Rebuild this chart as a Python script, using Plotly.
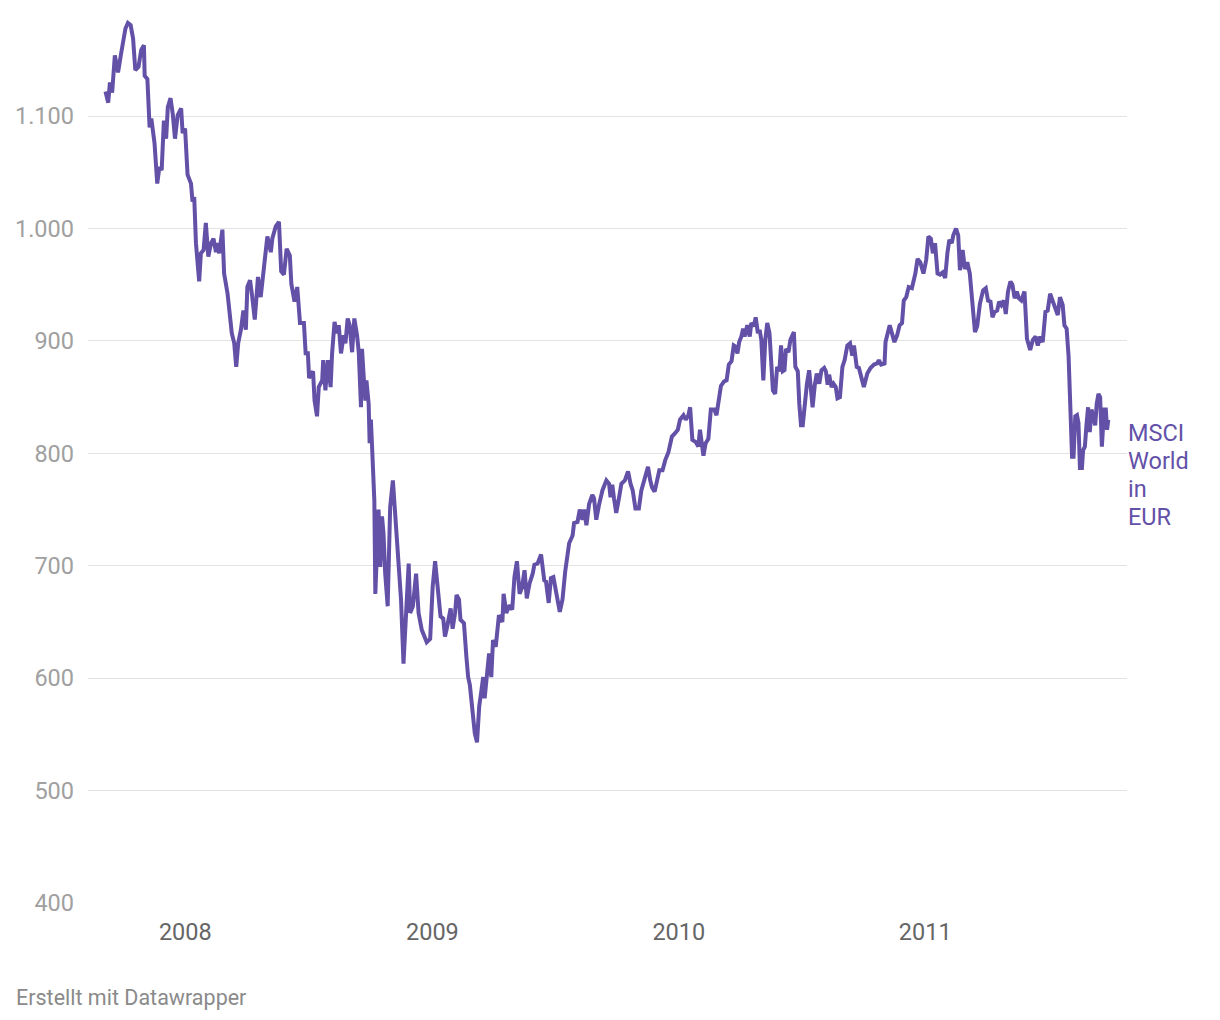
import pandas as pd
import plotly.graph_objects as go

# MSCI World in EUR
# dates as decimal years, values in index points
year_frac = [
    2007.676, 2007.687, 2007.694, 2007.703, 2007.714, 2007.727, 2007.738, 2007.747, 2007.757, 2007.767,
    2007.778, 2007.788, 2007.797, 2007.810, 2007.821, 2007.832, 2007.835, 2007.846, 2007.855, 2007.862,
    2007.868, 2007.875, 2007.886, 2007.895, 2007.904, 2007.913, 2007.922, 2007.929, 2007.940, 2007.949,
    2007.958, 2007.969, 2007.983, 2007.989, 2007.999, 2008.009, 2008.023, 2008.029, 2008.036, 2008.043,
    2008.056, 2008.063, 2008.074, 2008.083, 2008.093, 2008.104, 2008.114, 2008.124, 2008.130, 2008.137,
    2008.150, 2008.157, 2008.171, 2008.180, 2008.188, 2008.198, 2008.206, 2008.214, 2008.225, 2008.235,
    2008.245, 2008.251, 2008.262, 2008.271, 2008.281, 2008.289, 2008.294, 2008.305, 2008.319, 2008.332,
    2008.346, 2008.352, 2008.366, 2008.379, 2008.388, 2008.399, 2008.410, 2008.423, 2008.429, 2008.442,
    2008.453, 2008.464, 2008.480, 2008.487, 2008.496, 2008.501, 2008.517, 2008.523, 2008.533, 2008.540,
    2008.554, 2008.558, 2008.567, 2008.577, 2008.588, 2008.594, 2008.604, 2008.612, 2008.621, 2008.630,
    2008.641, 2008.648, 2008.657, 2008.665, 2008.675, 2008.684, 2008.695, 2008.702, 2008.711, 2008.715,
    2008.722, 2008.729, 2008.733, 2008.742, 2008.746, 2008.751, 2008.757, 2008.765, 2008.769, 2008.782,
    2008.789, 2008.796, 2008.802, 2008.809, 2008.819, 2008.829, 2008.840, 2008.854, 2008.863, 2008.873,
    2008.883, 2008.894, 2008.904, 2008.910, 2008.921, 2008.934, 2008.944, 2008.957, 2008.977, 2008.991,
    2009.001, 2009.011, 2009.020, 2009.033, 2009.044, 2009.051, 2009.060, 2009.074, 2009.082, 2009.092,
    2009.098, 2009.108, 2009.114, 2009.128, 2009.138, 2009.145, 2009.152, 2009.165, 2009.172, 2009.181,
    2009.190, 2009.199, 2009.206, 2009.212, 2009.222, 2009.230, 2009.239, 2009.246, 2009.257, 2009.270,
    2009.284, 2009.289, 2009.300, 2009.313, 2009.324, 2009.333, 2009.343, 2009.354, 2009.364, 2009.374,
    2009.383, 2009.394, 2009.407, 2009.414, 2009.427, 2009.441, 2009.454, 2009.461, 2009.472, 2009.481,
    2009.491, 2009.501, 2009.517, 2009.528, 2009.539, 2009.555, 2009.569, 2009.575, 2009.589, 2009.598,
    2009.609, 2009.616, 2009.625, 2009.636, 2009.649, 2009.656, 2009.665, 2009.676, 2009.690, 2009.706,
    2009.717, 2009.723, 2009.730, 2009.737, 2009.746, 2009.757, 2009.767, 2009.781, 2009.794, 2009.804,
    2009.813, 2009.824, 2009.838, 2009.848, 2009.862, 2009.875, 2009.884, 2009.891, 2009.902, 2009.911,
    2009.921, 2009.934, 2009.945, 2009.958, 2009.972, 2009.985, 2009.996, 2010.005, 2010.019, 2010.028,
    2010.039, 2010.046, 2010.055, 2010.069, 2010.079, 2010.086, 2010.100, 2010.109, 2010.120, 2010.130,
    2010.144, 2010.153, 2010.160, 2010.171, 2010.184, 2010.194, 2010.203, 2010.214, 2010.223, 2010.230,
    2010.238, 2010.245, 2010.254, 2010.261, 2010.267, 2010.278, 2010.288, 2010.294, 2010.305, 2010.312,
    2010.321, 2010.328, 2010.335, 2010.343, 2010.351, 2010.359, 2010.368, 2010.375, 2010.382, 2010.391,
    2010.399, 2010.408, 2010.415, 2010.422, 2010.429, 2010.435, 2010.445, 2010.453, 2010.467, 2010.473,
    2010.483, 2010.489, 2010.496, 2010.503, 2010.512, 2010.520, 2010.529, 2010.536, 2010.543, 2010.552,
    2010.560, 2010.570, 2010.579, 2010.590, 2010.597, 2010.604, 2010.610, 2010.620, 2010.628, 2010.637,
    2010.644, 2010.654, 2010.664, 2010.673, 2010.684, 2010.695, 2010.704, 2010.711, 2010.722, 2010.731,
    2010.742, 2010.751, 2010.765, 2010.778, 2010.792, 2010.805, 2010.812, 2010.821, 2010.835, 2010.839,
    2010.856, 2010.866, 2010.875, 2010.886, 2010.896, 2010.906, 2010.913, 2010.923, 2010.933, 2010.946,
    2010.960, 2010.969, 2010.980, 2010.993, 2011.004, 2011.013, 2011.023, 2011.031, 2011.040, 2011.050,
    2011.060, 2011.071, 2011.081, 2011.090, 2011.098, 2011.108, 2011.114, 2011.125, 2011.134, 2011.141,
    2011.152, 2011.161, 2011.171, 2011.181, 2011.188, 2011.195, 2011.202, 2011.211, 2011.222, 2011.235,
    2011.246, 2011.255, 2011.265, 2011.273, 2011.282, 2011.292, 2011.300, 2011.309, 2011.319, 2011.327,
    2011.336, 2011.346, 2011.354, 2011.363, 2011.372, 2011.380, 2011.390, 2011.403, 2011.413, 2011.426,
    2011.437, 2011.448, 2011.457, 2011.467, 2011.477, 2011.488, 2011.497, 2011.507, 2011.517, 2011.528,
    2011.538, 2011.547, 2011.558, 2011.565, 2011.574, 2011.582, 2011.588, 2011.592, 2011.596, 2011.602,
    2011.609, 2011.616, 2011.622, 2011.628, 2011.636, 2011.641, 2011.648, 2011.654, 2011.661, 2011.668,
    2011.675, 2011.681, 2011.690, 2011.696, 2011.703, 2011.710, 2011.717, 2011.726, 2011.733, 2011.738,
    2011.743,
]

msci_world_eur = [
    1122, 1112, 1130, 1121, 1154, 1139, 1154, 1166, 1178, 1183,
    1181, 1169, 1141, 1144, 1159, 1163, 1136, 1133, 1090, 1098,
    1085, 1076, 1040, 1055, 1052, 1096, 1080, 1108, 1116, 1102,
    1080, 1101, 1107, 1085, 1089, 1048, 1040, 1024, 1028, 987,
    953, 978, 981, 1005, 975, 987, 991, 979, 987, 978,
    999, 960, 942, 927, 907, 898, 877, 898, 910, 927,
    910, 948, 954, 939, 919, 942, 957, 939, 969, 993,
    979, 991, 1002, 1006, 962, 959, 982, 976, 951, 935,
    948, 916, 916, 889, 889, 867, 873, 847, 833, 859,
    865, 883, 856, 883, 859, 889, 917, 907, 914, 889,
    905, 898, 920, 914, 890, 920, 905, 890, 841, 893,
    868, 847, 865, 844, 809, 830, 800, 758, 675, 750,
    699, 744, 729, 693, 664, 752, 776, 730, 693, 670,
    613, 655, 702, 658, 664, 693, 658, 643, 632, 635,
    681, 704, 684, 655, 653, 637, 646, 662, 644, 658,
    674, 670, 652, 649, 619, 601, 594, 560, 551, 543,
    575, 589, 601, 582, 610, 622, 601, 634, 628, 656,
    650, 675, 658, 665, 661, 690, 704, 675, 681, 696,
    671, 684, 693, 701, 702, 710, 687, 686, 667, 689,
    690, 676, 659, 670, 695, 720, 727, 738, 739, 750,
    741, 750, 736, 755, 763, 760, 741, 754, 767, 776,
    773, 761, 772, 760, 747, 760, 773, 776, 784, 773,
    767, 751, 751, 767, 778, 788, 776, 770, 766, 776,
    785, 785, 794, 801, 815, 818, 821, 830, 834, 830,
    834, 841, 812, 810, 806, 821, 798, 809, 813, 839,
    839, 834, 846, 860, 864, 865, 879, 882, 896, 895,
    889, 899, 904, 911, 904, 914, 904, 916, 913, 921,
    907, 910, 901, 865, 901, 916, 907, 877, 856, 853,
    877, 873, 896, 873, 874, 893, 890, 901, 908, 877,
    873, 844, 825, 825, 847, 862, 874, 853, 841, 861,
    871, 862, 874, 876, 873, 861, 870, 859, 862, 859,
    849, 850, 877, 883, 896, 898, 887, 896, 877, 876,
    867, 859, 871, 876, 879, 880, 883, 879, 880, 899,
    914, 905, 899, 905, 914, 916, 936, 939, 948, 947,
    960, 973, 970, 960, 972, 993, 991, 978, 987, 960,
    959, 961, 956, 978, 990, 987, 994, 1000, 994, 963,
    981, 964, 970, 960, 942, 921, 908, 913, 933, 945,
    947, 936, 935, 921, 926, 927, 935, 932, 936, 924,
    944, 953, 950, 938, 944, 938, 936, 944, 902, 892,
    901, 904, 896, 904, 899, 926, 927, 942, 936, 927,
    923, 939, 932, 914, 911, 886, 847, 815, 797, 797,
    833, 834, 827, 787, 787, 803, 806, 824, 841, 819,
    839, 833, 825, 844, 853, 850, 806, 839, 839, 821,
    830,
]

y_ticks = [400, 500, 600, 700, 800, 900, 1000, 1100]
x_tick_years = [2008, 2009, 2010, 2011]
x_span = [2007.605, 2011.819]

# series label, one word per line, with the value each line sits at
label_lines = ["MSCI", "World", "in", "EUR"]
label_levels = [818, 793, 768, 743]

line_color = "#6351a8"


def to_date(y):
    year = int(y)
    start = pd.Timestamp(year=year, month=1, day=1)
    days = (pd.Timestamp(year=year + 1, month=1, day=1) - start).days
    return start + pd.Timedelta(days=(y - year) * days)


dates = [to_date(y) for y in year_frac]

fig = go.Figure()
fig.add_trace(go.Scatter(
    x=dates, y=msci_world_eur, mode="lines",
    line=dict(color=line_color, width=4),
    hoverinfo="skip", showlegend=False,
))

fig.update_xaxes(
    type="date",
    range=[to_date(x_span[0]), to_date(x_span[1])],
    tickvals=[pd.Timestamp(year=y, month=1, day=1) for y in x_tick_years],
    ticktext=[str(y) for y in x_tick_years],
    showgrid=False, zeroline=False, showline=False, ticks="",
    tickfont=dict(size=23.5, color="#666666"),
    ticklabelstandoff=12,
)
fig.update_yaxes(
    range=[400, 1190],
    tickvals=y_ticks,
    tickformat=",",
    showgrid=True, gridcolor="#e3e3e3", gridwidth=1,
    zeroline=False, showline=False, ticks="",
    tickfont=dict(size=23.5, color="#a0a0a0"),
    ticklabelstandoff=13,
)

for word, level in zip(label_lines, label_levels):
    fig.add_annotation(
        text=word,
        xref="paper", x=1, xanchor="left", xshift=-1,
        yref="y", y=level, yanchor="middle",
        align="left", showarrow=False,
        font=dict(size=23.5, color=line_color),
    )

fig.add_annotation(
    text="Erstellt mit Datawrapper",
    xref="paper", x=-0.0715, xanchor="left",
    yref="paper", y=-0.106, yanchor="middle",
    showarrow=False,
    font=dict(size=21.5, color="#8a8a8a"),
)

# the page body puts a margin round the plot, so the figure is made smaller to fit
fig.update_layout(
    width=1212, height=1012,
    margin=dict(l=74, r=93, t=7, b=117, pad=0),
    paper_bgcolor="white", plot_bgcolor="white",
    font=dict(family="Roboto"),
    separators=",.",
)

fig.write_html("out.html")
